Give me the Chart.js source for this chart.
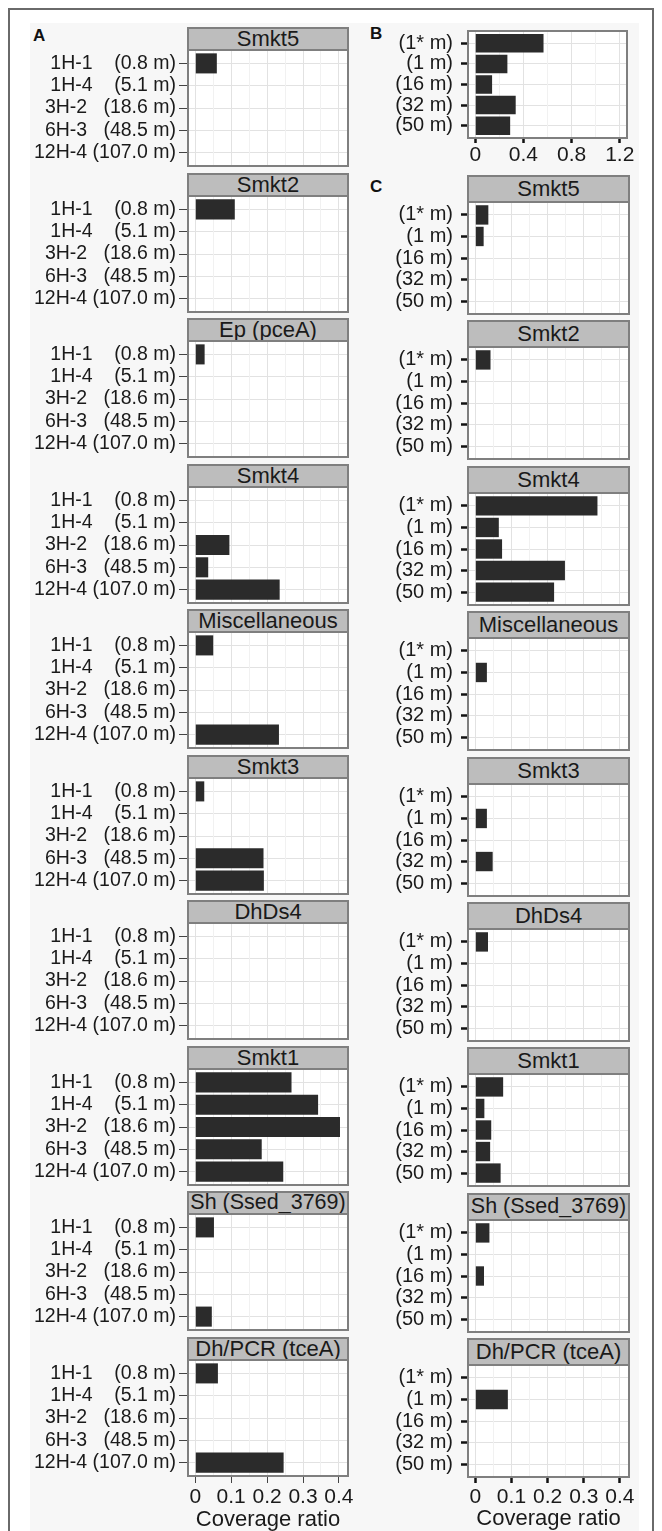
<!DOCTYPE html>
<html>
<head>
<meta charset="utf-8">
<script src="https://cdn.jsdelivr.net/npm/chart.js@4.4.1/dist/chart.umd.min.js"></script>
<style>
  body { margin: 0; width: 662px; height: 1531px; position: relative; overflow: hidden; background: #fff;
         font-family: "Liberation Sans", Arial, sans-serif; }
  #frame { position: absolute; left: 8px; top: 8px; width: 646px; height: 1530px; box-sizing: border-box;
           border: 2px solid #6a6a6a; border-bottom: none; }
  #fig { position: absolute; left: 30px; top: 23px; width: 609px; height: 1508px; background: #f7f7f7; }
  .strip { position: absolute; box-sizing: border-box; background: #bdbdbd; border: 2px solid #7f7f7f;
           font-size: 22px; color: #1a1a1a; text-align: center; white-space: nowrap; overflow: hidden; }
  .letter { position: absolute; font-weight: bold; font-size: 17px; line-height: 17px; color: #111; }
  canvas { position: absolute; }
</style>
</head>
<body>
<div id="frame"></div>
<div id="fig"></div>
<div class="letter" style="left:33px;top:27px">A</div>
<div class="letter" style="left:370px;top:25px">B</div>
<div class="letter" style="left:370px;top:178px">C</div>
<script>
// sampling sites (panel A) and depths (panels B, C)
const sitesA = ['1H-1', '1H-4', '3H-2', '6H-3', '12H-4'];
const depthsA = ['(0.8 m)', '(5.1 m)', '(18.6 m)', '(48.5 m)', '(107.0 m)'];
const depthsC = ['(1* m)', '(1 m)', '(16 m)', '(32 m)', '(50 m)'];

const panelsA = ['Smkt5', 'Smkt2', 'Ep (pceA)', 'Smkt4', 'Miscellaneous', 'Smkt3', 'DhDs4', 'Smkt1', 'Sh (Ssed_3769)', 'Dh/PCR (tceA)'];
const panelsC = ['Smkt5', 'Smkt2', 'Smkt4', 'Miscellaneous', 'Smkt3', 'DhDs4', 'Smkt1', 'Sh (Ssed_3769)', 'Dh/PCR (tceA)'];

// coverage ratio, panel A (one value per site)
const aSmkt5 = [0.060, 0, 0, 0, 0];
const aSmkt2 = [0.110, 0, 0, 0, 0];
const aEp = [0.026, 0, 0, 0, 0];
const aSmkt4 = [0, 0, 0.095, 0.036, 0.235];
const aMisc = [0.050, 0, 0, 0, 0.233];
const aSmkt3 = [0.025, 0, 0, 0.190, 0.191];
const aDhDs4 = [0, 0, 0, 0, 0];
const aSmkt1 = [0.268, 0.342, 0.403, 0.185, 0.245];
const aSh = [0.052, 0, 0, 0, 0.046];
const aDhPcr = [0.063, 0, 0, 0, 0.246];

// coverage ratio, panel B
const bTotal = [0.567, 0.267, 0.140, 0.336, 0.290];

// coverage ratio, panel C (one value per depth)
const cSmkt5 = [0.036, 0.023, 0, 0, 0];
const cSmkt2 = [0.042, 0, 0, 0, 0];
const cSmkt4 = [0.338, 0.065, 0.074, 0.248, 0.218];
const cMisc = [0, 0.032, 0, 0, 0];
const cSmkt3 = [0, 0.032, 0, 0.048, 0];
const cDhDs4 = [0.035, 0, 0, 0, 0];
const cSmkt1 = [0.077, 0.025, 0.044, 0.041, 0.070];
const cSh = [0.039, 0, 0.024, 0, 0];
const cDhPcr = [0, 0.090, 0, 0, 0];

const valuesA = [aSmkt5, aSmkt2, aEp, aSmkt4, aMisc, aSmkt3, aDhDs4, aSmkt1, aSh, aDhPcr];
const valuesC = [cSmkt5, cSmkt2, cSmkt4, cMisc, cSmkt3, cDhDs4, cSmkt1, cSh, cDhPcr];

// x axis breaks
const coverageTicks = [0, 0.1, 0.2, 0.3, 0.4];
const coverageTicksB = [0, 0.4, 0.8, 1.2];

const FONT = '"Liberation Sans", Arial, sans-serif';
const BAR = '#2b2b2b';
const GRID = '#e2e2e2';
const GRID_MINOR = '#f1f1f1';

const labelsA = sitesA.map((s, i) => s.padEnd(6) + depthsA[i].padStart(9));

function withMinors(majors) {
    const out = [];
    majors.forEach((m, i) => {
        out.push(m);
        if (i < majors.length - 1) out.push((m + majors[i + 1]) / 2);
    });
    return out;
}

// white panel background + grey border round the plot area
const panelFrame = {
    id: 'panelFrame',
    beforeDraw(chart) {
        const { ctx, chartArea: a } = chart;
        ctx.save();
        ctx.fillStyle = '#fff';
        ctx.fillRect(a.left, a.top, a.width, a.height);
        ctx.restore();
    },
    afterDraw(chart) {
        const { ctx, chartArea: a } = chart;
        ctx.save();
        ctx.strokeStyle = '#7f7f7f';
        ctx.lineWidth = 2;
        ctx.strokeRect(a.left, a.top, a.width, a.height);
        ctx.restore();
    }
};

function addStrip(text, left, top, width, height) {
    const d = document.createElement('div');
    d.className = 'strip';
    d.style.left = left + 'px';
    d.style.top = top + 'px';
    d.style.width = width + 'px';
    d.style.height = height + 'px';
    d.style.lineHeight = (height - 5) + 'px';
    const s = document.createElement('span');
    s.textContent = text;
    d.appendChild(s);
    document.body.appendChild(d);
    let size = 22;
    while (s.offsetWidth > width - 6 && size > 10) {
        size -= 0.5;
        d.style.fontSize = size + 'px';
    }
}

function drawPanel(p) {
    const canvas = document.createElement('canvas');
    const top = Math.round(p.plotTop) - 2;
    const padRight = p.axisH ? 16 : 2;
    const height = p.axisH ? p.plotH + 2 + p.axisH : p.plotH + 4;
    const width = p.axisW + p.plotW + padRight;
    canvas.width = width;
    canvas.height = height;
    canvas.style.left = (p.plotLeft - p.axisW) + 'px';
    canvas.style.top = top + 'px';
    canvas.style.width = width + 'px';
    canvas.style.height = height + 'px';
    document.body.appendChild(canvas);

    const bottom = !!p.axisH;
    const isMajor = v => p.majors.some(m => Math.abs(m - v) < 1e-9);

    new Chart(canvas, {
        type: 'bar',
        data: {
            datasets: [{
                data: p.values.map((v, i) => ({ x: v, y: i + 1 })),
                backgroundColor: BAR,
                borderWidth: 0,
                categoryPercentage: 1,
                barPercentage: 0.9
            }]
        },
        options: {
            indexAxis: 'y',
            responsive: false,
            animation: false,
            events: [],
            layout: { padding: { top: 2, right: padRight, bottom: bottom ? 0 : 2, left: 0 } },
            plugins: { legend: { display: false }, tooltip: { enabled: false } },
            scales: {
                y: {
                    type: 'linear',
                    reverse: true,
                    offset: false,
                    min: 0.4,
                    max: 5.6,
                    afterBuildTicks: s => { s.ticks = p.labels.map((l, i) => ({ value: i + 1 })); },
                    afterFit: s => { s.width = p.axisW; s.paddingTop = 0; s.paddingBottom = 0; },
                    ticks: {
                        callback: v => p.labels[v - 1],
                        font: { family: FONT, size: p.labelSize, lineHeight: 1 },
                        color: '#1a1a1a',
                        padding: p.labelPad,
                        autoSkip: false
                    },
                    grid: { offset: false, color: GRID, lineWidth: 1, tickLength: p.yTickLen, tickColor: p.tickColor, tickWidth: p.tickWidth },
                    border: { display: false }
                },
                x: {
                    type: 'linear',
                    min: p.xMin,
                    max: p.xMax,
                    afterBuildTicks: s => { s.ticks = withMinors(p.majors).map(v => ({ value: v })); },
                    afterFit: s => { s.height = bottom ? p.axisH : 0; s.paddingLeft = 0; s.paddingRight = 0; },
                    ticks: {
                        display: bottom,
                        autoSkip: false,
                        maxRotation: 0,
                        callback: v => isMajor(v) ? String(v) : '',
                        font: { family: FONT, size: 21, lineHeight: 1 },
                        color: '#1a1a1a',
                        padding: p.xLabelPad || 0
                    },
                    grid: {
                        color: c => isMajor(c.tick.value) ? GRID : GRID_MINOR,
                        lineWidth: 1,
                        drawTicks: bottom,
                        tickLength: p.xTickLen || 0,
                        tickColor: c => isMajor(c.tick.value) ? p.tickColor : 'rgba(0,0,0,0)',
                        tickWidth: p.tickWidth
                    },
                    border: { display: false },
                    title: {
                        display: !!p.title,
                        text: p.title || '',
                        font: { family: FONT, size: 22, lineHeight: 1 },
                        color: '#1a1a1a',
                        padding: { top: 0, bottom: p.titlePad || 0 }
                    }
                }
            }
        },
        plugins: [panelFrame]
    });
}

// panel A: ten facets stacked on the left
panelsA.forEach((name, i) => {
    const stripTop = Math.round(27 + 145.5 * i);
    addStrip(name, 187, stripTop, 162, 24);
    const last = i === panelsA.length - 1;
    drawPanel({
        values: valuesA[i], labels: labelsA,
        plotLeft: 188, plotW: 160, axisW: 178,
        plotTop: stripTop + 23, plotH: 116,
        axisH: last ? 1531 - (stripTop + 23 + 116) : 0,
        xMin: -0.0203, xMax: 0.4253, majors: coverageTicks,
        labelSize: 19.5, labelPad: 3, yTickLen: 9, xTickLen: 7, xLabelPad: 4,
        tickColor: '#444', tickWidth: 1,
        title: last ? 'Coverage ratio' : null
    });
});

// panel B: total coverage by depth
drawPanel({
    values: bTotal, labels: depthsC,
    plotLeft: 468, plotW: 159, axisW: 108,
    plotTop: 31, plotH: 107, axisH: 30,
    xMin: -0.06, xMax: 1.26, majors: coverageTicksB,
    labelSize: 20, labelPad: 8, yTickLen: 7, xTickLen: 5, xLabelPad: 2,
    tickColor: '#111', tickWidth: 2.5
});

// panel C: nine facets on the right
panelsC.forEach((name, j) => {
    const stripTop = Math.round(175 + 145.4 * j);
    addStrip(name, 467, stripTop, 163, 28);
    const last = j === panelsC.length - 1;
    drawPanel({
        values: valuesC[j], labels: depthsC,
        plotLeft: 468, plotW: 161, axisW: 108,
        plotTop: stripTop + 27, plotH: 112,
        axisH: last ? 1531 - (stripTop + 27 + 112) : 0,
        xMin: -0.0203, xMax: 0.4253, majors: coverageTicks,
        labelSize: 20, labelPad: 8, yTickLen: 7, xTickLen: 6, xLabelPad: 4,
        tickColor: '#111', tickWidth: 2.5,
        title: last ? 'Coverage ratio' : null, titlePad: 1
    });
});
</script>
</body>
</html>
